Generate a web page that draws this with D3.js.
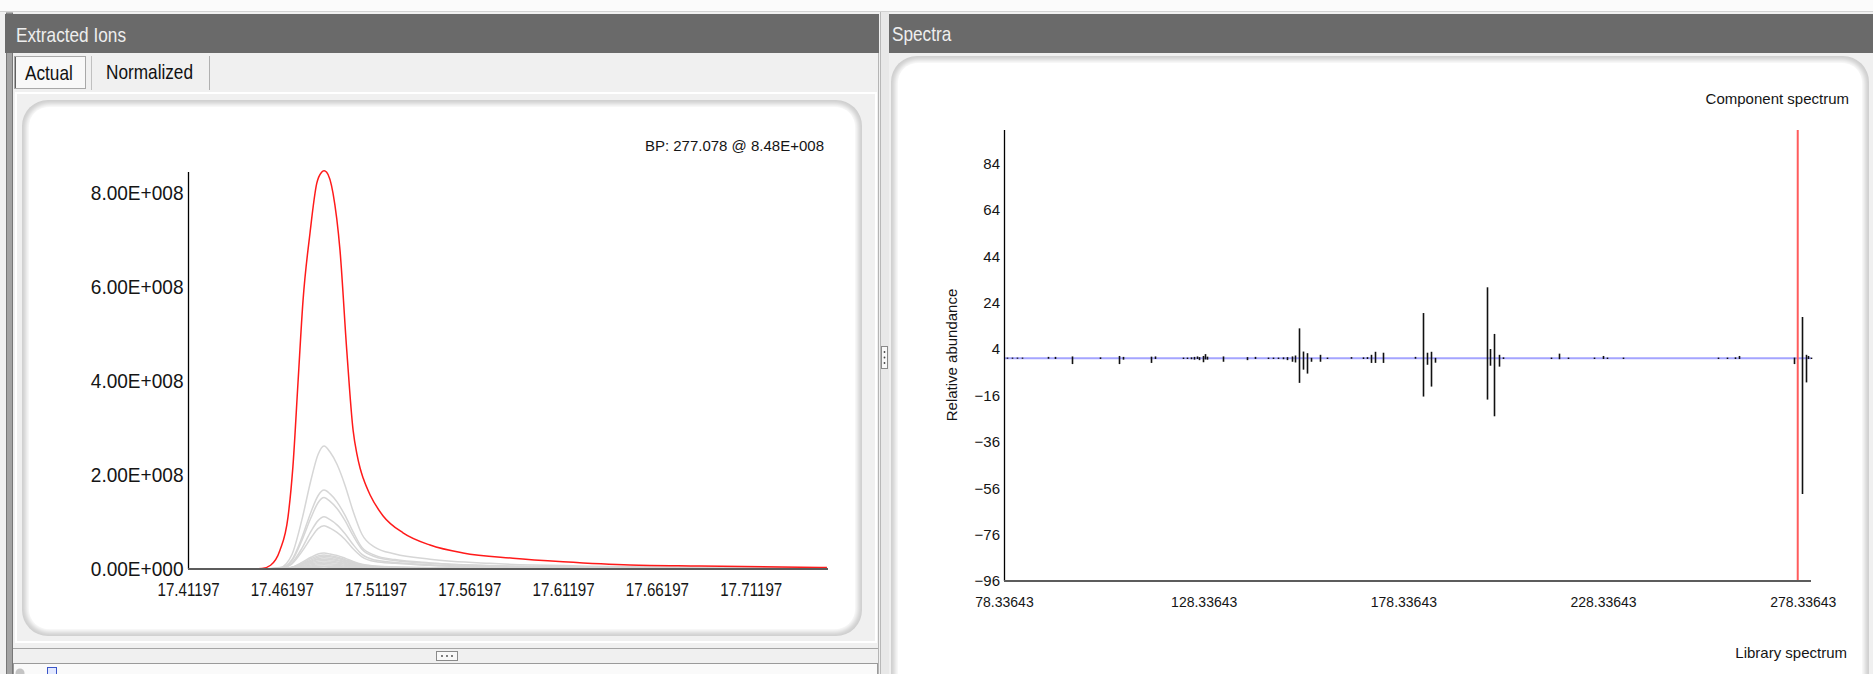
<!DOCTYPE html>
<html lang="en">
<head>
<meta charset="utf-8">
<title>Extracted Ions / Spectra</title>
<script src="https://cdn.jsdelivr.net/npm/d3@7"></script>
<style>
body { margin: 0; background: #f0f0f0; overflow: hidden; }
svg { display: block; }
.hdr { font-family: "Liberation Sans", Arial, sans-serif; font-size: 21px; fill: #eeeeee; }
.tab { font-family: "Liberation Sans", Arial, sans-serif; font-size: 21px; fill: #111; }
.axisLy text { font-family: "Liberation Sans", Arial, sans-serif; font-size: 20.5px; fill: #151515; }
.axisLx text { font-family: "Liberation Sans", Arial, sans-serif; font-size: 18.5px; fill: #151515; }
.axisR text { font-family: "Liberation Sans", Arial, sans-serif; font-size: 15px; fill: #151515; }
.axisRx text { font-family: "Liberation Sans", Arial, sans-serif; font-size: 14px; fill: #151515; }
.lbl { font-family: "Liberation Sans", Arial, sans-serif; font-size: 15px; fill: #151515; }
.domain { display: none; }
</style>
</head>
<body>
<script>

// ---------- Extracted ions (intensity in units of 1E+008) ----------
var redTimes = [17.4125, 17.4450, 17.4514, 17.4560, 17.4610, 17.4653, 17.4679, 17.4706, 17.4733, 17.4770,
                17.4806, 17.4832, 17.4845, 17.4859, 17.4893, 17.4930, 17.4966, 17.5000, 17.5020, 17.5037,
                17.5054, 17.5090, 17.5160, 17.5266, 17.5410, 17.5586, 17.5852, 17.6119, 17.6476, 17.6849, 17.7526];
var redValues = [0, 0.003, 0.01, 0.08, 0.40, 1.11, 2.18, 3.96, 5.72, 7.15,
                 8.21, 8.45, 8.48, 8.45, 8.00, 6.79, 4.66, 2.95, 2.45, 2.15,
                 1.93, 1.58, 1.13, 0.77, 0.51, 0.34, 0.23, 0.155, 0.085, 0.064, 0.032];

var grayTimes = [17.4125, 17.4514, 17.4610, 17.4674, 17.4727, 17.4775, 17.4813, 17.4845, 17.4877, 17.4914,
                 17.4957, 17.5000, 17.5047, 17.5117, 17.5223, 17.5410, 17.5730, 17.6209, 17.6849, 17.7526];
var graySeries = [
  [0, 0, 0.03, 0.31, 1.05, 1.89, 2.44, 2.62, 2.49, 2.23, 1.78, 1.23, 0.74, 0.46, 0.32, 0.21, 0.12, 0.066, 0.039, 0.026],
  [0, 0, 0.02, 0.20, 0.67, 1.21, 1.56, 1.68, 1.60, 1.43, 1.14, 0.79, 0.46, 0.29, 0.20, 0.13, 0.075, 0.042, 0.025, 0.017],
  [0, 0, 0.015, 0.18, 0.61, 1.09, 1.41, 1.52, 1.44, 1.29, 1.03, 0.71, 0.42, 0.26, 0.18, 0.12, 0.068, 0.038, 0.023, 0.015],
  [0, 0, 0.01, 0.13, 0.44, 0.80, 1.03, 1.11, 1.05, 0.94, 0.75, 0.52, 0.31, 0.19, 0.14, 0.09, 0.05, 0.028, 0.017, 0.011],
  [0, 0, 0.01, 0.11, 0.37, 0.66, 0.86, 0.92, 0.87, 0.78, 0.63, 0.43, 0.26, 0.16, 0.12, 0.074, 0.041, 0.023, 0.014, 0.009],
  [0, 0, 0, 0.04, 0.14, 0.25, 0.32, 0.34, 0.32, 0.29, 0.23, 0.16, 0.10, 0.065, 0.045, 0.028, 0.016, 0.009, 0.005, 0.003],
  [0, 0, 0, 0.036, 0.12, 0.22, 0.28, 0.30, 0.285, 0.255, 0.20, 0.14, 0.09, 0.057, 0.04, 0.024, 0.014, 0.008, 0.005, 0.003],
  [0, 0, 0, 0.03, 0.11, 0.19, 0.25, 0.27, 0.26, 0.23, 0.18, 0.13, 0.08, 0.05, 0.035, 0.022, 0.012, 0.007, 0.004, 0.003],
  [0, 0, 0, 0.03, 0.10, 0.17, 0.22, 0.24, 0.23, 0.20, 0.16, 0.11, 0.07, 0.045, 0.031, 0.019, 0.011, 0.006, 0.004, 0.002],
  [0, 0, 0, 0.025, 0.085, 0.15, 0.20, 0.21, 0.20, 0.18, 0.14, 0.10, 0.063, 0.04, 0.027, 0.017, 0.009, 0.005, 0.003, 0.002],
  [0, 0, 0, 0.02, 0.07, 0.13, 0.17, 0.18, 0.17, 0.15, 0.12, 0.085, 0.054, 0.034, 0.023, 0.014, 0.008, 0.005, 0.003, 0.002],
  [0, 0, 0, 0.018, 0.06, 0.11, 0.14, 0.15, 0.14, 0.13, 0.10, 0.07, 0.045, 0.028, 0.02, 0.012, 0.007, 0.004, 0.002, 0.001],
  [0, 0, 0, 0.014, 0.048, 0.086, 0.11, 0.12, 0.114, 0.10, 0.08, 0.056, 0.036, 0.023, 0.016, 0.01, 0.005, 0.003, 0.002, 0.001],
  [0, 0, 0, 0.01, 0.036, 0.065, 0.084, 0.09, 0.085, 0.077, 0.061, 0.042, 0.027, 0.017, 0.012, 0.007, 0.004, 0.002, 0.001, 0.001],
  [0, 0, 0, 0.007, 0.024, 0.043, 0.056, 0.06, 0.057, 0.051, 0.041, 0.028, 0.018, 0.011, 0.008, 0.005, 0.003, 0.002, 0.001, 0],
  [0, 0, 0, 0.005, 0.016, 0.029, 0.037, 0.04, 0.038, 0.034, 0.027, 0.019, 0.012, 0.008, 0.005, 0.003, 0.002, 0.001, 0.001, 0]
];

var timeTicks = [17.41197, 17.46197, 17.51197, 17.56197, 17.61197, 17.66197, 17.71197];
var intensityTicks = [0, 2, 4, 6, 8];
var bpMz = 277.078;

// ---------- Spectra (component up, library down) ----------
var mzValues = [79.1, 80.3, 81.6, 82.8, 89.3, 91.1, 95.4, 102.4, 107.1, 108.1,
                115.1, 116.1, 123.1, 124.1, 125.2, 125.9, 126.7, 127.2, 128.2, 128.7,
                129.2, 133.2, 139.2, 141.2, 144.4, 145.7, 146.9, 148.2, 149.2, 150.4,
                151.2, 152.2, 153.2, 154.2, 155.2, 157.5, 159.2, 165.2, 168.2, 169.2,
                170.2, 171.2, 173.2, 181.2, 183.2, 184.2, 185.2, 186.2, 199.3, 200.0,
                201.0, 202.3, 203.3, 215.3, 217.3, 219.5, 226.1, 228.3, 229.3, 233.3,
                257.1, 259.4, 261.4, 262.4, 276.1, 278.1, 279.1, 279.6, 280.4];
var componentValues = [0.3, 0.3, 0.3, 0.3, 0.6, 0.6, 0.8, 0.4, 1.0, 0.6,
                       0.7, 0.8, 0.3, 0.3, 0.4, 0.6, 0.8, 0.5, 1.0, 1.8,
                       0.7, 0.8, 0.5, 0.6, 0.3, 0.3, 0.3, 0.4, 0.5, 0.8,
                       1.2, 12.9, 2.9, 2.2, 0.2, 1.5, 0.3, 0.5, 0.4, 0.5,
                       1.5, 2.8, 2.4, 0.6, 19.5, 2.4, 2.8, 0.2, 30.6, 4.0,
                       10.5, 1.5, 0.4, 0.3, 2.0, 0.3, 0.3, 1.0, 0.3, 0.3,
                       0.3, 0.3, 0.4, 1.0, 0.3, 17.8, 1.5, 1.0, 0.3];
var libraryValues = [0.2, 0.2, 0.2, 0.2, 0.2, 0.3, 2.5, 0.3, 2.5, 0.6,
                     2.0, 0.3, 0.3, 0.3, 0.4, 0.6, 0.3, 0.8, 1.7, 0.5,
                     0.6, 1.5, 0.8, 0.3, 0.3, 0.3, 0.3, 0.4, 0.8, 1.5,
                     1.8, 10.6, 4.9, 6.6, 1.5, 1.5, 0.3, 0.2, 0.3, 0.3,
                     2.0, 2.0, 2.0, 0.2, 16.5, 2.8, 12.2, 1.9, 17.8, 3.2,
                     25.0, 3.6, 0.3, 0.3, 0.4, 0.3, 0.3, 0.3, 0.3, 0.3,
                     0.3, 0.3, 0.3, 0.3, 2.5, 58.5, 10.4, 0.3, 0.3];
var mzTicks = [78.33643, 128.33643, 178.33643, 228.33643, 278.33643];
var abundanceTicks = [-96, -76, -56, -36, -16, 4, 24, 44, 64, 84];

//Width and height of the window
var W = 1873, H = 674;
//horizontal squeeze of the narrow UI text
var sq = 0.82;
var sqY = 0.93;

function sci(v) {
	if (v === 0) return "0.00E+000";
	var e = Math.floor(Math.log10(v));
	var m = v / Math.pow(10, e);
	return m.toFixed(2) + "E+" + String(e).padStart(3, "0");
}

var svg = d3.select("body").append("svg")
	.attr("width", W)
	.attr("height", H);

//narrow text helper
function narrowText(cls, x, y, str) {
	svg.append("text").attr("class", cls)
		.attr("transform", "translate(" + x + "," + y + ") scale(" + sq + ",1)")
		.text(str);
}

var defs = svg.append("defs");
defs.append("filter").attr("id", "soft")
	.attr("x", "-5%").attr("y", "-5%").attr("width", "110%").attr("height", "110%")
	.append("feGaussianBlur").attr("stdDeviation", 2.5);

//Window chrome
svg.append("rect").attr("x", 0).attr("y", 0).attr("width", W).attr("height", 11).attr("fill", "#fbfbfb");
svg.append("line").attr("x1", 0).attr("x2", W).attr("y1", 11.5).attr("y2", 11.5).attr("stroke", "#d2d2d2");

//Left panel frame
svg.append("rect").attr("x", 6.5).attr("y", 13).attr("width", 6).attr("height", H).attr("fill", "#a3a3a3").attr("stroke", "#777");
svg.append("rect").attr("x", 16).attr("y", 93).attr("width", 860).attr("height", 549)
	.attr("fill", "#f0f0f0").attr("stroke", "#ffffff").attr("stroke-width", 2);
svg.append("line").attr("x1", 878.5).attr("x2", 878.5).attr("y1", 53).attr("y2", H).attr("stroke", "#b5b5b5");

//Headers
svg.append("rect").attr("x", 5).attr("y", 14).attr("width", 874).attr("height", 39).attr("fill", "#6a6a6a");
svg.append("rect").attr("x", 888).attr("y", 14).attr("width", W - 888).attr("height", 39).attr("fill", "#6a6a6a");
narrowText("hdr", 16, 42, "Extracted Ions");
narrowText("hdr", 892, 41, "Spectra");

//Tabs
svg.append("rect").attr("x", 14.5).attr("y", 56.5).attr("width", 71).attr("height", 32)
	.attr("fill", "#f8f8f8").attr("stroke", "#a8a8a8");
svg.append("line").attr("x1", 15.5).attr("x2", 15.5).attr("y1", 57).attr("y2", 88).attr("stroke", "#606060");
svg.append("line").attr("x1", 91.5).attr("x2", 91.5).attr("y1", 56).attr("y2", 90).attr("stroke", "#c0c0c0");
svg.append("line").attr("x1", 209.5).attr("x2", 209.5).attr("y1", 56).attr("y2", 90).attr("stroke", "#b0b0b0");
narrowText("tab", 25, 80, "Actual");
narrowText("tab", 106, 79, "Normalized");

//Cards (white rounded areas with a soft edge)
function card(x, y, w, h) {
	svg.append("rect").attr("x", x).attr("y", y).attr("width", w).attr("height", h)
		.attr("rx", 26).attr("fill", "#cdcdcd");
	svg.append("rect").attr("x", x + 4).attr("y", y + 4).attr("width", w - 8).attr("height", h - 8)
		.attr("rx", 23).attr("fill", "#ffffff").attr("filter", "url(#soft)");
	svg.append("rect").attr("x", x + 7).attr("y", y + 7).attr("width", w - 14).attr("height", h - 14)
		.attr("rx", 20).attr("fill", "#ffffff");
}
card(22, 100, 840, 536);

//Right panel frame and splitter
svg.append("rect").attr("x", 880).attr("y", 12).attr("width", 9).attr("height", H).attr("fill", "#e8e8e8");
svg.append("line").attr("x1", 880.5).attr("x2", 880.5).attr("y1", 12).attr("y2", H).attr("stroke", "#b8b8b8");
svg.append("rect").attr("x", 889).attr("y", 53).attr("width", W - 889).attr("height", H).attr("fill", "#f0f0f0");
card(891, 56, 978, 700);
svg.append("rect").attr("x", 881.5).attr("y", 346.5).attr("width", 6).attr("height", 22)
	.attr("fill", "#f8f8f8").attr("stroke", "#8a8a8a");
svg.selectAll("circle.vgrip").data([352, 357.5, 363]).enter().append("circle")
	.attr("cx", 884.5).attr("cy", function(d) { return d; }).attr("r", 0.9).attr("fill", "#444");

//Bottom splitter and strip
svg.append("line").attr("x1", 13).attr("x2", 878).attr("y1", 648.5).attr("y2", 648.5).attr("stroke", "#a5a5a5");
svg.append("rect").attr("x", 436.5).attr("y", 651.5).attr("width", 21).attr("height", 9)
	.attr("fill", "#f8f8f8").attr("stroke", "#8a8a8a");
svg.selectAll("circle.hgrip").data([442, 447, 452]).enter().append("circle")
	.attr("cx", function(d) { return d; }).attr("cy", 656).attr("r", 0.9).attr("fill", "#444");
svg.append("rect").attr("x", 13.5).attr("y", 663.5).attr("width", 864).attr("height", 14)
	.attr("fill", "#fafafa").attr("stroke", "#9a9a9a");
svg.append("circle").attr("cx", 20).attr("cy", 673).attr("r", 4.5).attr("fill", "#c4c4c4");
svg.append("rect").attr("x", 47.5).attr("y", 667.5).attr("width", 9).attr("height", 9)
	.attr("fill", "#e3e9ff").attr("stroke", "#3a55c8");

// ================= Extracted ions chart =================
var xL = d3.scaleLinear().domain([17.41197, 17.75317]).range([188, 828]);
var yL = d3.scaleLinear().domain([0, 8]).range([569, 193.3]);

var lineL = d3.line().curve(d3.curveMonotoneX);

var grayG = svg.append("g");
graySeries.forEach(function(vals) {
	grayG.append("path")
		.attr("d", lineL(grayTimes.map(function(t, i) { return [xL(t), yL(vals[i])]; })))
		.attr("fill", "none")
		.attr("stroke", "#d6d6d6")
		.attr("stroke-width", 1.5);
});

svg.append("path")
	.attr("d", lineL(redTimes.map(function(t, i) { return [xL(t), yL(redValues[i])]; })))
	.attr("fill", "none")
	.attr("stroke", "#ff1a1a")
	.attr("stroke-width", 1.5);

//Axes
var axLy = svg.append("g").attr("class", "axisLy")
	.attr("transform", "translate(188.5,0)")
	.call(d3.axisLeft(yL).tickValues(intensityTicks).tickSize(0).tickPadding(5)
		.tickFormat(function(d) { return sci(d * 1e8); }));
axLy.selectAll("text").attr("x", -5 / sqY).attr("transform", "scale(" + sqY + ",1)");

var axLx = svg.append("g").attr("class", "axisLx")
	.attr("transform", "translate(0,569)")
	.call(d3.axisBottom(xL).tickValues(timeTicks).tickSize(0).tickPadding(14)
		.tickFormat(d3.format(".5f")));
axLx.selectAll("text").attr("transform", "scale(" + sq + ",1)");

svg.append("line").attr("x1", 188.5).attr("x2", 188.5).attr("y1", 172).attr("y2", 569)
	.attr("stroke", "#000").attr("stroke-width", 1.3);
svg.append("line").attr("x1", 188).attr("x2", 828).attr("y1", 569).attr("y2", 569)
	.attr("stroke", "#5c5c5c").attr("stroke-width", 2.2);

svg.append("text").attr("class", "lbl")
	.attr("x", 824).attr("y", 151)
	.attr("text-anchor", "end")
	.text("BP: " + bpMz + " @ " + sci(d3.max(redValues) * 1e8));

// ================= Spectra chart =================
var xR = d3.scaleLinear().domain([78.33643, 280.4]).range([1004, 1811]);
var yR = d3.scaleLinear().domain([-96, 98.4]).range([581, 130]);

svg.append("line")
	.attr("x1", xR(78.33643)).attr("x2", xR(280.4))
	.attr("y1", yR(0)).attr("y2", yR(0))
	.attr("stroke", "#a4a4ff").attr("stroke-width", 2);

svg.append("line")
	.attr("x1", xR(bpMz)).attr("x2", xR(bpMz))
	.attr("y1", yR(98.4)).attr("y2", yR(-96))
	.attr("stroke", "#ff5c5c").attr("stroke-width", 2);

svg.append("g").selectAll("line")
	.data(mzValues)
	.enter()
	.append("line")
	.attr("x1", function(d) { return Math.round(xR(d)) + 0.5; })
	.attr("x2", function(d) { return Math.round(xR(d)) + 0.5; })
	.attr("y1", function(d, i) { return yR(componentValues[i]); })
	.attr("y2", function(d, i) { return yR(-libraryValues[i]); })
	.attr("stroke", "#111")
	.attr("stroke-width", 1.6);

svg.append("g").attr("class", "axisR")
	.attr("transform", "translate(1004,0)")
	.call(d3.axisLeft(yR).tickValues(abundanceTicks).tickSize(0).tickPadding(4));
svg.append("g").attr("class", "axisRx")
	.attr("transform", "translate(0,581)")
	.call(d3.axisBottom(xR).tickValues(mzTicks).tickSize(0).tickPadding(16)
		.tickFormat(d3.format(".5f")));
svg.append("line").attr("x1", 1004.5).attr("x2", 1004.5).attr("y1", 130).attr("y2", 581)
	.attr("stroke", "#000").attr("stroke-width", 1.3);
svg.append("line").attr("x1", 1004).attr("x2", 1811).attr("y1", 581).attr("y2", 581)
	.attr("stroke", "#5c5c5c").attr("stroke-width", 2.2);

svg.append("text").attr("class", "lbl")
	.attr("transform", "translate(957,355) rotate(-90)")
	.attr("text-anchor", "middle")
	.text("Relative abundance");
svg.append("text").attr("class", "lbl")
	.attr("x", 1849).attr("y", 104).attr("text-anchor", "end")
	.text("Component spectrum");
svg.append("text").attr("class", "lbl")
	.attr("x", 1847).attr("y", 658).attr("text-anchor", "end")
	.text("Library spectrum");

</script>
</body>
</html>
